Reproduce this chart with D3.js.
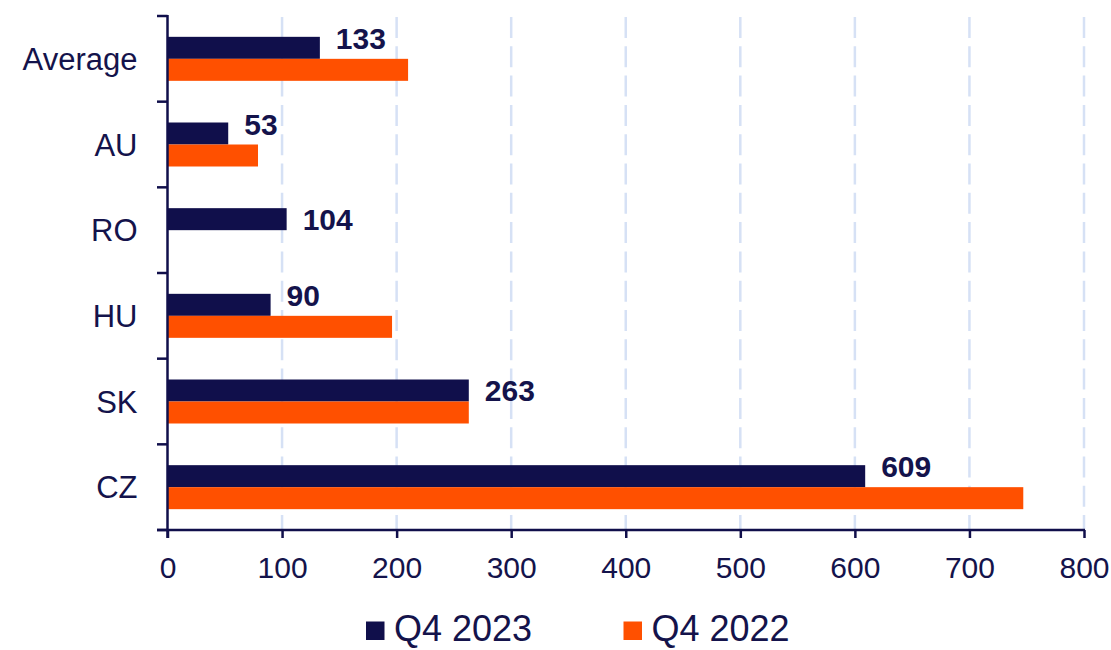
<!DOCTYPE html>
<html>
<head>
<meta charset="utf-8">
<script src="https://cdn.jsdelivr.net/npm/d3@7"></script>
<style>
  body { margin: 0; background: #fff; }
  svg text { font-family: "Liberation Sans", Arial, sans-serif; fill: #14134b; }
</style>
</head>
<body>
<div class="visHolder"></div>
<script>
const categories = ['Average', 'AU', 'RO', 'HU', 'SK', 'CZ'];
const q4_2023 = [133, 53, 104, 90, 263, 609];
const q4_2022 = [210, 79, null, 196, 263, 747];
const seriesNames = ['Q4 2023', 'Q4 2022'];
const xTicks = [0, 100, 200, 300, 400, 500, 600, 700, 800];

const w = 1111;
const h = 650;
const navy = '#100f4b';
const orange = '#ff5000';
const barH = 22;

const svg = d3
  .select('.visHolder')
  .append('svg')
  .attr('width', w)
  .attr('height', h);

const xScale = d3.scaleLinear().domain([0, 800]).range([167.5, 1084]);
const yScale = d3.scaleBand().domain(categories).range([16, 530]);

// grid
svg.append('g')
  .selectAll('line')
  .data(xTicks.slice(1))
  .enter()
  .append('line')
  .attr('x1', d => xScale(d))
  .attr('x2', d => xScale(d))
  .attr('y1', 17)
  .attr('y2', 530)
  .attr('stroke', '#d6e1f5')
  .attr('stroke-width', 2.5)
  .attr('stroke-dasharray', '21,8.3');

const rows = categories.map((c, i) => ({ cat: c, a: q4_2023[i], b: q4_2022[i] }));

// bars
const grp = svg.append('g');
grp.selectAll('.bar-a')
  .data(rows)
  .enter()
  .append('rect')
  .attr('class', 'bar-a')
  .attr('x', xScale(0))
  .attr('y', d => yScale(d.cat) + yScale.bandwidth() / 2 - barH)
  .attr('width', d => xScale(d.a) - xScale(0))
  .attr('height', barH)
  .attr('fill', navy);

grp.selectAll('.bar-b')
  .data(rows.filter(d => d.b != null))
  .enter()
  .append('rect')
  .attr('class', 'bar-b')
  .attr('x', xScale(0))
  .attr('y', d => yScale(d.cat) + yScale.bandwidth() / 2)
  .attr('width', d => xScale(d.b) - xScale(0))
  .attr('height', barH)
  .attr('fill', orange);

// value labels (raised when the orange bar runs past them)
grp.selectAll('.val')
  .data(rows)
  .enter()
  .append('text')
  .attr('class', 'val')
  .attr('x', d => xScale(d.a) + 16)
  .attr('y', d => {
    const mid = yScale(d.cat) + yScale.bandwidth() / 2 - barH / 2;
    return d.b != null && d.b > d.a ? mid - 9.5 : mid;
  })
  .attr('dy', '0.36em')
  .style('font-size', '30px')
  .style('font-weight', 'bold')
  .text(d => d.a);

// y axis
const yAxis = d3.axisLeft(yScale).tickSize(0).tickPadding(30);
svg.append('g')
  .attr('transform', 'translate(167.5,0)')
  .call(yAxis)
  .call(g => g.select('.domain').remove())
  .selectAll('text')
  .style('font-size', '31px')
  .attr('dy', '0.36em');

svg.append('g')
  .selectAll('line')
  .data(categories.map(c => yScale(c)).concat([530]))
  .enter()
  .append('line')
  .attr('x1', 157)
  .attr('x2', 167.5)
  .attr('y1', d => d)
  .attr('y2', d => d)
  .attr('stroke', navy)
  .attr('stroke-width', 2.5);

svg.append('line')
  .attr('x1', 167.5).attr('x2', 167.5)
  .attr('y1', 15).attr('y2', 538)
  .attr('stroke', navy)
  .attr('stroke-width', 2.5);

// x axis
const xAxis = d3.axisBottom(xScale).tickValues(xTicks).tickSize(8).tickPadding(19);
svg.append('g')
  .attr('transform', 'translate(0,530)')
  .call(xAxis)
  .call(g => g.select('.domain').remove())
  .call(g => g.selectAll('line').attr('stroke', navy).attr('stroke-width', 2.5))
  .selectAll('text')
  .style('font-size', '30px');

svg.append('line')
  .attr('x1', 157).attr('x2', 1085)
  .attr('y1', 530).attr('y2', 530)
  .attr('stroke', navy)
  .attr('stroke-width', 2.5);

// legend
const legend = svg.append('g').attr('id', 'legend');
const legendX = [366, 623.5];
legend.selectAll('rect')
  .data(seriesNames)
  .enter()
  .append('rect')
  .attr('x', (d, i) => legendX[i])
  .attr('y', 621.5)
  .attr('width', 18.5)
  .attr('height', 18.5)
  .attr('fill', (d, i) => i === 0 ? navy : orange);

legend.selectAll('text')
  .data(seriesNames)
  .enter()
  .append('text')
  .attr('x', (d, i) => legendX[i] + 28)
  .attr('y', 641)
  .style('font-size', '36px')
  .text(d => d);
</script>
</body>
</html>
